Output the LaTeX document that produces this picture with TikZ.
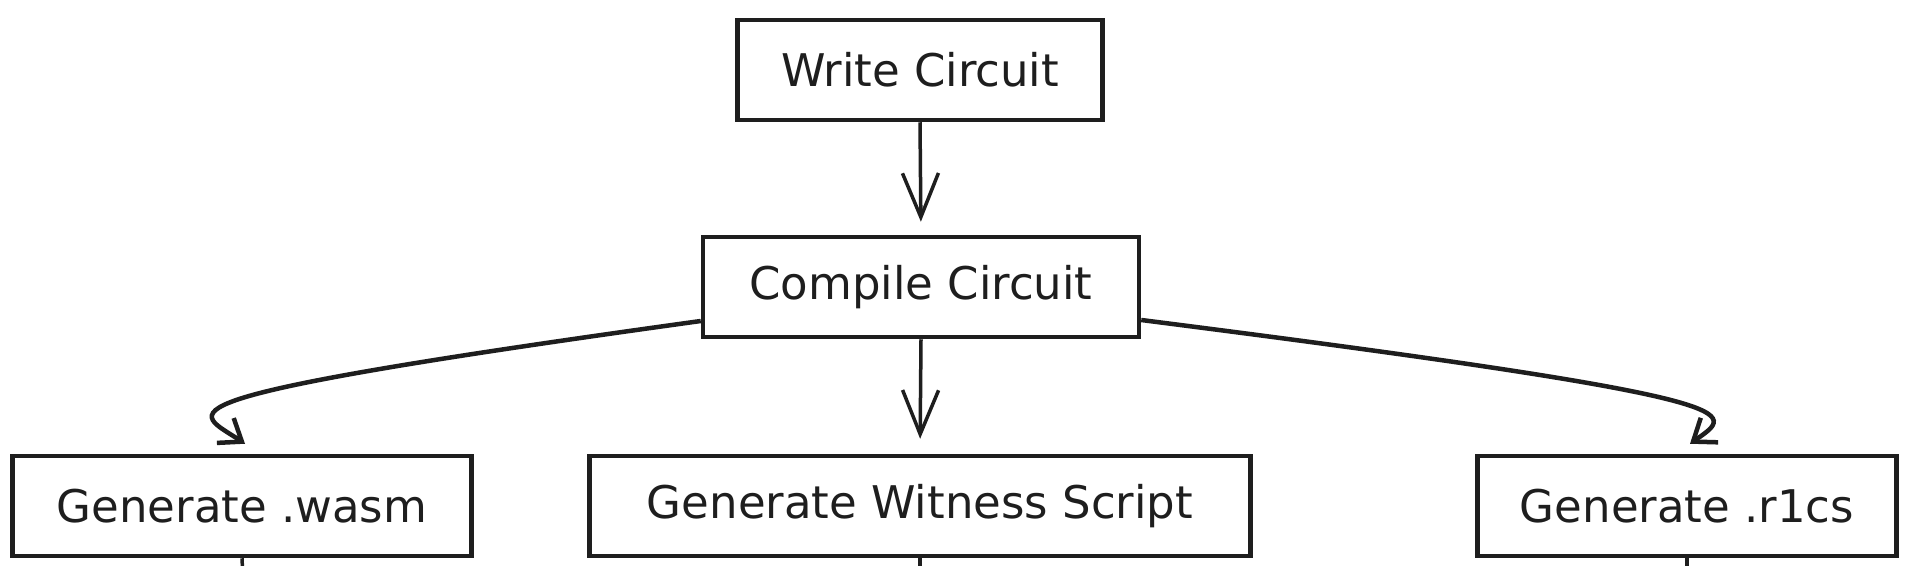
\documentclass[tikz,border=0pt]{standalone}
\usepackage{fontspec}
\setmainfont{DejaVu Sans}
\usetikzlibrary{arrows.meta,calc}
\definecolor{ink}{HTML}{1E1E1E}

\begin{document}
\begin{tikzpicture}[x=1pt,y=-1pt,
  box/.style={draw=ink,line width=4.5pt,minimum height=100pt,inner sep=0pt,text=ink,font=\fontsize{45}{54}\selectfont},
  flow/.style={draw=ink,line width=3.5pt,-{Straight Barb[length=44pt,width=36pt]}},
  hook/.style={draw=ink,line width=4.5pt,-{Straight Barb[length=20pt,width=30pt]}},
  stub/.style={draw=ink,line width=3.5pt}]
  \useasboundingbox[fill=white] (0,0) rectangle (1908,565);

  \node[box,minimum width=365pt] (write) at (920,70) {Write Circuit};
  \node[box,minimum width=436pt] (compile) at (921,287) {Compile Circuit};
  \node[box,minimum width=459pt] (wasm) at (242,506) {Generate .wasm};
  \node[box,minimum width=661pt] (witness) at (920,506) {Generate Witness Script};
  \node[box,minimum width=419pt] (r1cs) at (1687,506) {Generate .r1cs};

  \coordinate (wasmout) at (244,600);
  \coordinate (witnessout) at (920,600);
  \coordinate (r1csout) at (1687,600);

  \draw[flow,shorten >=13pt] (write.south) -- (compile.north);
  \draw[flow,shorten >=15pt] (compile.south) -- (witness.north);

  \draw[hook] ($(compile.west)+(0,34)$) .. controls (130,400) and (195,410) .. ($(wasm.north)+(3,-10)$);
  \draw[hook] ($(compile.east)+(0,33)$) .. controls (1770,400) and (1735,412) .. ($(r1cs.north)+(3,-10)$);

  \draw[stub] (wasm.south) -- (wasmout);
  \draw[stub] (witness.south) -- (witnessout);
  \draw[stub] (r1cs.south) -- (r1csout);
\end{tikzpicture}
\end{document}
